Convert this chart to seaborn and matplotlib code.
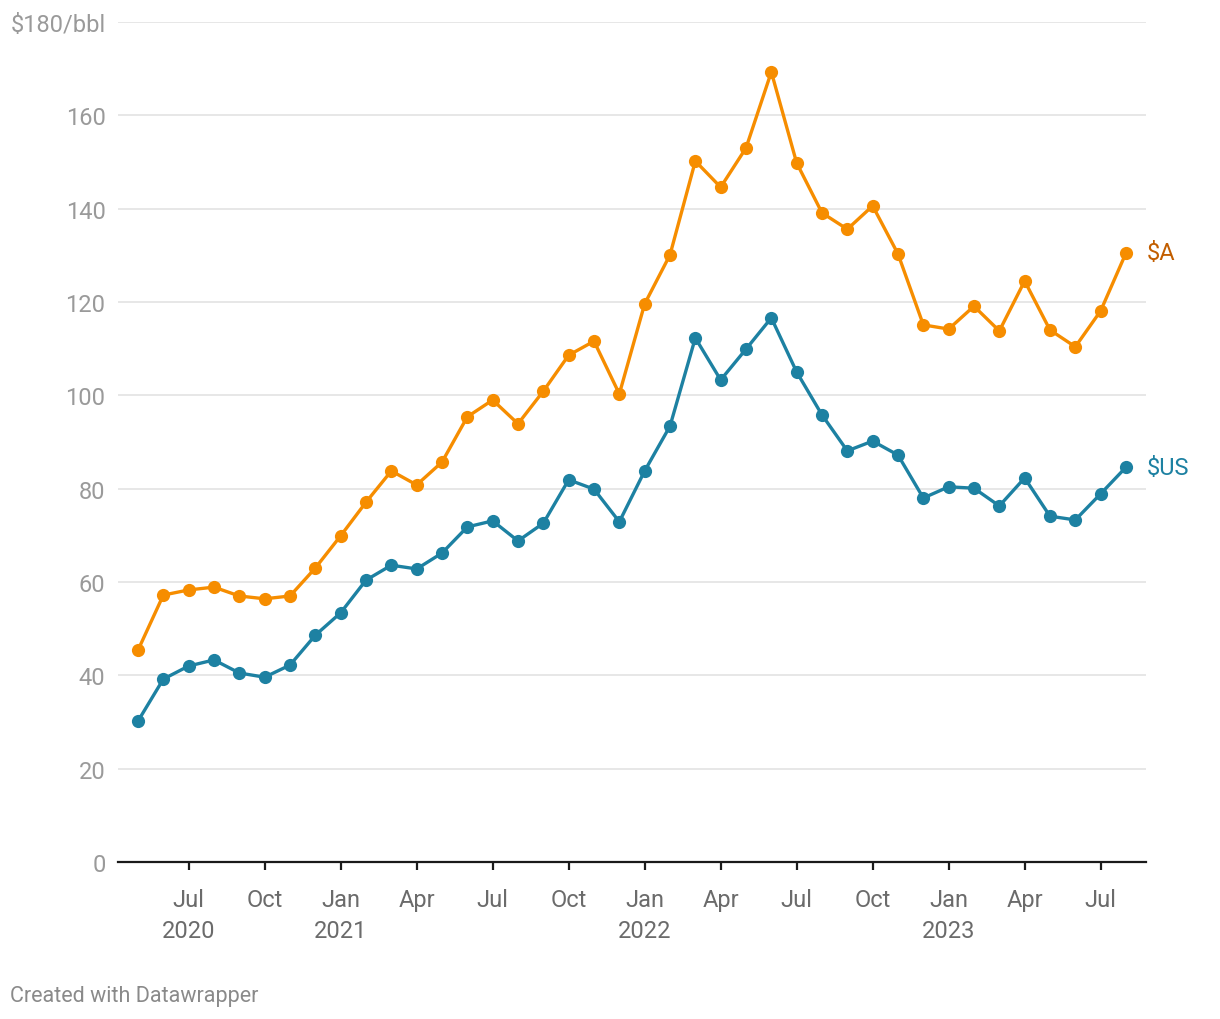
import pandas as pd
import seaborn as sns
import matplotlib.pyplot as plt

# monthly prices, May 2020 - Aug 2023
months = pd.date_range('2020-05-01', '2023-08-01', freq='MS')
aud = [45.4, 57.2, 58.3, 58.9, 57.0, 56.4, 57.0, 63.0, 69.9, 77.1,
       83.8, 80.8, 85.7, 95.4, 99.0, 93.9, 100.9, 108.6, 111.6, 100.3,
       119.6, 130.1, 150.2, 144.6, 153.0, 169.3, 149.8, 139.1, 135.6, 140.6,
       130.3, 115.1, 114.2, 119.1, 113.8, 124.5, 114.0, 110.4, 118.1, 130.5]
usd = [30.2, 39.2, 42.0, 43.3, 40.5, 39.6, 42.2, 48.6, 53.4, 60.4,
       63.6, 62.8, 66.2, 71.8, 73.1, 68.8, 72.6, 81.9, 79.9, 72.9,
       83.8, 93.4, 112.3, 103.3, 109.9, 116.6, 105.0, 95.8, 88.1, 90.2,
       87.2, 78.0, 80.4, 80.1, 76.3, 82.3, 74.1, 73.3, 78.9, 84.6]
series = ['$A', '$US']
colors = {'$A': '#f68d00', '$US': '#1d81a2'}
label_colors = {'$A': '#c25e00', '$US': '#1d81a2'}

yticks = [0, 20, 40, 60, 80, 100, 120, 140, 160, 180]
ytick_labels = ['0', '20', '40', '60', '80', '100', '120', '140', '160', '$180/bbl']
xtick_idx = [2, 5, 8, 11, 14, 17, 20, 23, 26, 29, 32, 35, 38]
xtick_labels = ['Jul\n2020', 'Oct', 'Jan\n2021', 'Apr', 'Jul', 'Oct', 'Jan\n2022',
                'Apr', 'Jul', 'Oct', 'Jan\n2023', 'Apr', 'Jul']

df = pd.DataFrame({
    'idx': list(range(len(months))) * 2,
    'price': aud + usd,
    'currency': ['$A'] * len(aud) + ['$US'] * len(usd),
})

sns.set_style('white')
plt.rcParams['font.family'] = ['Roboto', 'DejaVu Sans']

fig = plt.figure(figsize=(12.2, 10.2), dpi=100)
ax = fig.add_axes([118 / 1220, 1 - 863 / 1020, (1146 - 118) / 1220, (863 - 23) / 1020])

sns.lineplot(data=df, x='idx', y='price', hue='currency', palette=colors,
             marker='o', markersize=9.5, markeredgewidth=0, linewidth=2.4,
             legend=False, ax=ax, zorder=3)

ax.set_xlim(-0.79, 39.79)
ax.set_ylim(0, 180)
ax.set_yticks(yticks)
ax.set_yticklabels(ytick_labels)
ax.set_xticks(xtick_idx)
ax.set_xticklabels(xtick_labels, linespacing=1.45)
ax.set_xlabel('')
ax.set_ylabel('')

for v in yticks[1:]:
    ax.axhline(v, color='#e3e3e3', linewidth=1.2, zorder=1)

for s in ['top', 'right', 'left']:
    ax.spines[s].set_visible(False)
ax.spines['bottom'].set_color('#1a1a1a')
ax.spines['bottom'].set_linewidth(1.6)

ax.tick_params(axis='y', left=False, length=0, pad=9, labelsize=17, labelcolor='#9a9a9a')
ax.tick_params(axis='x', bottom=True, length=5.5, width=1.6, color='#1a1a1a', pad=13,
               labelsize=17, labelcolor='#6b6b6b', direction='out')

last = len(months) - 1
ax.text(last + 0.8, aud[-1], '$A', color=label_colors['$A'], fontsize=17,
        va='center', ha='left', clip_on=False)
ax.text(last + 0.8, usd[-1], '$US', color=label_colors['$US'], fontsize=17,
        va='center', ha='left', clip_on=False)

fig.text(10 / 1220, 1 - 997 / 1020, 'Created with Datawrapper', fontsize=15.5,
         color='#8a8a8a', ha='left', va='center')

fig.savefig('out.png', dpi=100)
